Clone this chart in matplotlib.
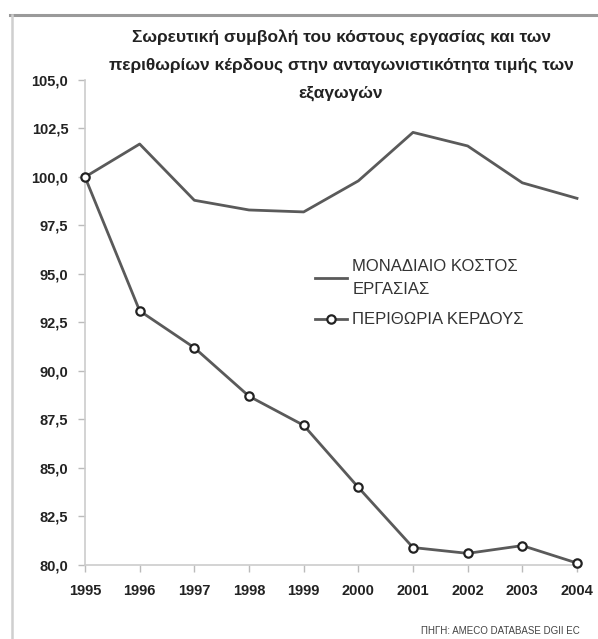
import matplotlib
matplotlib.use("Agg")
import matplotlib.pyplot as plt
from matplotlib.lines import Line2D

years = [1995, 1996, 1997, 1998, 1999, 2000, 2001, 2002, 2003, 2004]
unit_labour_cost = [100.0, 101.7, 98.8, 98.3, 98.2, 99.8, 102.3, 101.6, 99.7, 98.9]
profit_margins = [100.0, 93.1, 91.2, 88.7, 87.2, 84.0, 80.9, 80.6, 81.0, 80.1]
yticks = [80.0, 82.5, 85.0, 87.5, 90.0, 92.5, 95.0, 97.5, 100.0, 102.5, 105.0]
ytick_labels = ["80,0", "82,5", "85,0", "87,5", "90,0", "92,5", "95,0", "97,5", "100,0", "102,5", "105,0"]
title = "Σωρευτική συμβολή του κόστους εργασίας και των\nπεριθωρίων κέρδους στην ανταγωνιστικότητα τιμής των\nεξαγωγών"
series_names = ["ΜΟΝΑΔΙΑΙΟ ΚΟΣΤΟΣ\nΕΡΓΑΣΙΑΣ", "ΠΕΡΙΘΩΡΙΑ ΚΕΡΔΟΥΣ"]
source = "ΠΗΓΗ: AMECO DATABASE DGII EC"

plt.rcParams['font.family'] = ['Liberation Sans', 'DejaVu Sans']

fig = plt.figure(figsize=(5.98, 6.39), dpi=100)
# outer frame (top and left lines)
fig.add_artist(Line2D([0.017, 1.0], [1 - 15/639, 1 - 15/639], transform=fig.transFigure, color='#9a9a9a', lw=2.2))
fig.add_artist(Line2D([0.02, 0.02], [0.0, 1 - 15/639], transform=fig.transFigure, color='#cfcfcf', lw=1.8))

ax = fig.add_axes([85/598, 1 - 565/639, (577 - 85)/598, (565 - 80)/639])
line_color = '#5a5a5a'
ax.plot(years, unit_labour_cost, color=line_color, lw=2.0, label=series_names[0], clip_on=False, zorder=3)
ax.plot(years, profit_margins, color=line_color, lw=2.0, marker='o', markersize=6,
        markerfacecolor='white', markeredgecolor='#222222', markeredgewidth=1.6,
        label=series_names[1], clip_on=False, zorder=4)

ax.set_xlim(1995, 2004)
ax.set_ylim(80, 105)
ax.set_yticks(yticks)
ax.set_yticklabels(ytick_labels)
ax.set_xticks(years)
ax.set_xticklabels([str(y) for y in years])
for s in ['top', 'right']:
    ax.spines[s].set_visible(False)
for s in ['left', 'bottom']:
    ax.spines[s].set_color('#cccccc')
    ax.spines[s].set_linewidth(1.2)
ax.tick_params(axis='both', colors='#bbbbbb', length=5, width=1, direction='out')
ax.tick_params(axis='y', pad=7)
ax.tick_params(axis='x', pad=9)
for lbl in ax.get_xticklabels() + ax.get_yticklabels():
    lbl.set_color('#222222')
    lbl.set_fontweight('bold')
    lbl.set_fontsize(10.5)

fig.text(341/598, 1 - 29/639, title, ha='center', va='top', fontsize=12.5, fontweight='bold',
         color='#222222', linespacing=2.05)

leg = ax.legend(loc='upper left', bbox_to_anchor=(315/598, 1 - 259/639),
                bbox_transform=fig.transFigure, frameon=False, fontsize=12,
                handlelength=1.9, handletextpad=0.35, labelspacing=0.9, borderaxespad=0,
                borderpad=0)
for t in leg.get_texts():
    t.set_color('#333333')
    t.set_linespacing(1.7)

fig.text(580/598, 1 - 631/639, source, ha='right', va='center', fontsize=7, color='#444444')

fig.savefig("out.png", dpi=100, facecolor='white')
